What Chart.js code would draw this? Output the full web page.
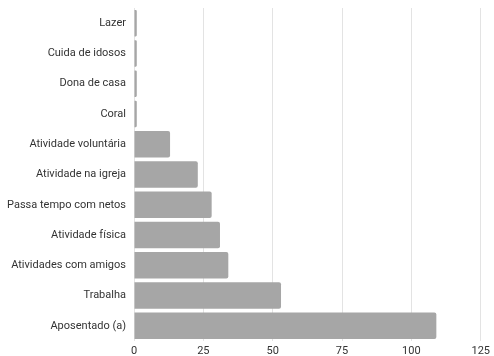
<!DOCTYPE html>
<html>
<head>
<meta charset="utf-8">
<script src="https://cdn.jsdelivr.net/npm/chart.js@4"></script>
<style>
  html, body { margin: 0; padding: 0; background: #fff; }
  #wrap { width: 494px; height: 356px; }
</style>
</head>
<body>
<div id="wrap"><canvas id="chart"></canvas></div>
<script>
const categories = [
    'Lazer', 'Cuida de idosos', 'Dona de casa', 'Coral', 'Atividade voluntária',
    'Atividade na igreja', 'Passa tempo com netos', 'Atividade física',
    'Atividades com amigos', 'Trabalha', 'Aposentado (a)'
];
const counts = [1, 1, 1, 1, 13, 23, 28, 31, 34, 53, 109];
const xTicks = [0, 25, 50, 75, 100, 125];

Chart.defaults.font.family = 'Roboto';
Chart.defaults.font.size = 11;
Chart.defaults.color = '#333';

const ctx = document.getElementById('chart').getContext('2d');

new Chart(ctx, {
    type: 'bar',
    data: {
        labels: categories,
        datasets: [{
            data: counts,
            backgroundColor: '#a6a6a6',
            borderWidth: 0,
            borderRadius: 2,
            borderSkipped: 'start',
            barPercentage: 0.875,
            categoryPercentage: 1
        }]
    },
    options: {
        indexAxis: 'y',
        responsive: true,
        maintainAspectRatio: false,
        animation: false,
        layout: { padding: { top: 8, right: 10, bottom: 0, left: 0 } },
        plugins: {
            legend: { display: false },
            tooltip: { enabled: false }
        },
        scales: {
            x: {
                min: 0,
                max: 125,
                afterBuildTicks: scale => {
                    scale.ticks = xTicks.map(v => ({ value: v }));
                },
                grid: { color: '#e3e3e3', drawTicks: false, lineWidth: 1 },
                border: { display: false },
                ticks: { padding: 4 },
                afterFit: scale => { scale.height = 15; }
            },
            y: {
                grid: { display: false, drawTicks: false },
                border: { display: false },
                ticks: { padding: 8 },
                afterFit: scale => {
                    scale.width = 134;
                    scale.paddingTop = 0;
                    scale.paddingBottom = 0;
                }
            }
        }
    }
});
</script>
</body>
</html>
